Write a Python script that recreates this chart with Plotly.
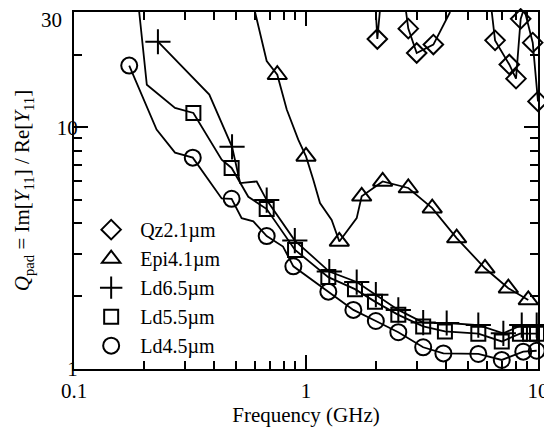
import math
import plotly.graph_objects as go

# ---------------- data (frequency in GHz, Q_pad) ----------------
# Qz2.1um : segments leave the plot through the top (Q=30), separated by None
qz_line_f = [2.0, 2.03, 2.08, None, 2.70, 2.76, 3.0, 3.54, 4.18, None,
             6.32, 6.53, 7.52, 8.04, 8.42, 8.61, None, 8.79, 9.49, 10.0]
qz_line_q = [30, 23.2, 30, None, 30, 25.6, 20.3, 22.0, 30, None,
             30, 22.9, 18.2, 15.9, 28.1, 30, None, 30, 22.4, 12.8]
qz_mk_f = [2.03, 2.76, 3.0, 3.54, 6.53, 7.52, 8.04, 8.42, 9.49, 10.0]
qz_mk_q = [23.2, 25.6, 20.3, 22.0, 22.9, 18.2, 15.9, 28.1, 22.4, 12.8]

# Epi4.1um
epi_line_f = [0.603, 0.677, 0.752, 0.826, 0.926, 1.0, 1.075, 1.149, 1.29, 1.392,
              1.654, 1.738, 2.14, 2.76, 3.50, 4.46, 5.91, 7.45, 9.08]
epi_line_q = [30, 18.8, 16.5, 11.84, 8.89, 7.58, 6.07, 4.86, 4.14, 3.37,
              4.21, 5.18, 5.97, 5.61, 4.63, 3.48, 2.61, 2.16, 1.93]
epi_mk_f = [0.752, 1.0, 1.392, 1.738, 2.14, 2.76, 3.50, 4.46, 5.91, 7.45, 9.08]
epi_mk_q = [16.5, 7.58, 3.37, 5.18, 5.97, 5.61, 4.63, 3.48, 2.61, 2.16, 1.93]

# Ld6.5um
ld65_line_f = [0.23, 0.383, 0.48, 0.52, 0.613, 0.677, 0.895, 1.26, 1.654, 2.0,
               2.5, 3.2, 4.04, 5.53, 7.09, 8.51, 9.87]
ld65_line_q = [22.6, 13.66, 8.3, 5.88, 5.97, 5.0, 3.40, 2.53, 2.29, 2.03,
               1.756, 1.556, 1.55, 1.52, 1.405, 1.52, 1.52]
ld65_mk_f = [0.23, 0.48, 0.677, 0.895, 1.26, 1.654, 2.0, 2.5, 3.2, 4.04, 5.53, 7.09, 8.51, 9.87]
ld65_mk_q = [22.6, 8.3, 5.0, 3.40, 2.53, 2.29, 2.03, 1.756, 1.556, 1.55, 1.52, 1.405, 1.52, 1.52]

# Ld5.5um
ld55_line_f = [0.191, 0.206, 0.2725, 0.327, 0.433, 0.478, 0.564, 0.677, 0.897, 1.248,
               1.626, 1.983, 2.5, 3.2, 3.97, 5.53, 6.98, 8.36, 9.24, 9.9]
ld55_line_q = [30, 15.0, 12.03, 11.47, 7.35, 6.79, 5.16, 4.59, 3.11, 2.40,
               2.14, 1.90, 1.675, 1.50, 1.43, 1.40, 1.30, 1.40, 1.40, 1.40]
ld55_mk_f = [0.327, 0.478, 0.677, 0.897, 1.248, 1.626, 1.983, 2.5, 3.2, 3.97, 5.53, 6.98, 8.36, 9.24, 9.9]
ld55_mk_q = [11.47, 6.79, 4.59, 3.11, 2.40, 2.14, 1.90, 1.675, 1.50, 1.43, 1.40, 1.30, 1.40, 1.40, 1.40]

# Ld4.5um
ld45_line_f = [0.173, 0.227, 0.2725, 0.325, 0.433, 0.478, 0.528, 0.593, 0.677, 0.796,
               0.882, 1.248, 1.60, 2.0, 2.5, 3.2, 3.91, 5.53, 6.98, 8.64, 9.87]
ld45_line_q = [18.0, 9.78, 7.86, 7.49, 5.08, 5.06, 4.21, 4.08, 3.55, 3.21,
               2.66, 2.09, 1.756, 1.58, 1.42, 1.23, 1.16, 1.154, 1.09, 1.18, 1.19]
ld45_mk_f = [0.173, 0.325, 0.478, 0.677, 0.882, 1.248, 1.60, 2.0, 2.5, 3.2, 3.91, 5.53, 6.98, 8.64, 9.87]
ld45_mk_q = [18.0, 7.49, 5.06, 3.55, 2.66, 2.09, 1.756, 1.58, 1.42, 1.23, 1.16, 1.154, 1.09, 1.18, 1.19]

x_major = [0.1, 1, 10]
x_major_text = ["0.1", "1", "10"]
x_minor = [0.2, 0.3, 0.4, 0.5, 0.6, 0.7, 0.8, 0.9, 2, 3, 4, 5, 6, 7, 8, 9]
y_major = [1, 10, 30]
y_major_text = ["1", "10", "30"]
y_minor = [2, 3, 4, 5, 6, 7, 8, 9, 20]

FONT = "Liberation Serif"
FS = 21
series = [
    ("Qz2.1µm", qz_line_f, qz_line_q, qz_mk_f, qz_mk_q, "diamond-open", 15),
    ("Epi4.1µm", epi_line_f, epi_line_q, epi_mk_f, epi_mk_q, "triangle-up-open", 17),
    ("Ld6.5µm", ld65_line_f, ld65_line_q, ld65_mk_f, ld65_mk_q, "cross-thin-open", 18),
    ("Ld5.5µm", ld55_line_f, ld55_line_q, ld55_mk_f, ld55_mk_q, "square-open", 14),
    ("Ld4.5µm", ld45_line_f, ld45_line_q, ld45_mk_f, ld45_mk_q, "circle-open", 16),
]

fig = go.Figure()
for name, lf, lq, mf, mq, sym, sz in series:
    fig.add_trace(go.Scatter(x=lf, y=lq, mode="lines", showlegend=False,
                             line=dict(color="black", width=1.8), hoverinfo="skip"))
for name, lf, lq, mf, mq, sym, sz in series:
    fig.add_trace(go.Scatter(x=mf, y=mq, mode="markers", name=name, cliponaxis=False,
                             marker=dict(symbol=sym, size=sz, color="black",
                                         line=dict(color="black", width=2))))

common = dict(showgrid=False, zeroline=False, showline=True, linecolor="black",
              linewidth=2, mirror="ticks", ticks="inside", tickwidth=2, ticklen=14,
              tickcolor="black", automargin=False, ticklabeloverflow="allow",
              tickfont=dict(family=FONT, size=FS, color="black"))
minor_common = dict(tickmode="array", ticks="inside", ticklen=8, tickwidth=2,
                    tickcolor="black", showgrid=False)

XR = [-1, 1]
YR = [0, math.log10(y_major[-1]) + 1e-6]

# the top label ("30") sits at the very top edge of the page: draw it as an
# annotation nudged slightly down so that it is not clipped
y_tick_text_axis = y_major_text[:-1] + [""]

# the page body adds an 8 px offset, so the figure is 8 px smaller on each axis
fig.update_layout(
    width=544, height=423,
    margin=dict(l=66, r=14, t=4, b=62),
    paper_bgcolor="white", plot_bgcolor="white",
    font=dict(family=FONT, size=FS, color="black"),
    xaxis=dict(type="log", range=XR, tickmode="array", tickvals=x_major,
               ticktext=x_major_text, ticklabelstandoff=2,
               minor=dict(tickvals=x_minor, **minor_common),
               title=dict(text="Frequency (GHz)", font=dict(family=FONT, size=FS), standoff=4),
               **common),
    yaxis=dict(type="log", range=YR, tickmode="array", tickvals=y_major,
               ticktext=y_tick_text_axis, ticklabelstandoff=-10,
               minor=dict(tickvals=y_minor, **minor_common),
               title=dict(text="<i>Q</i><sub>pad</sub> = Im[<i>Y</i><sub>11</sub>] / Re[<i>Y</i><sub>11</sub>]",
                          font=dict(family=FONT, size=FS), standoff=21),
               **common),
    legend=dict(x=0.0176, y=0.445, xanchor="left", yanchor="top", bgcolor="rgba(0,0,0,0)",
                font=dict(family=FONT, size=20, color="black"), itemwidth=48,
                tracegroupgap=0),
    annotations=[dict(text=y_major_text[-1], xref="paper", x=0, xanchor="right", xshift=-10,
                      yref="y", y=math.log10(y_major[-1]), yanchor="middle", yshift=-8,
                      showarrow=False, font=dict(family=FONT, size=FS, color="black"))],
    showlegend=True,
)

fig.write_html("out.html")
